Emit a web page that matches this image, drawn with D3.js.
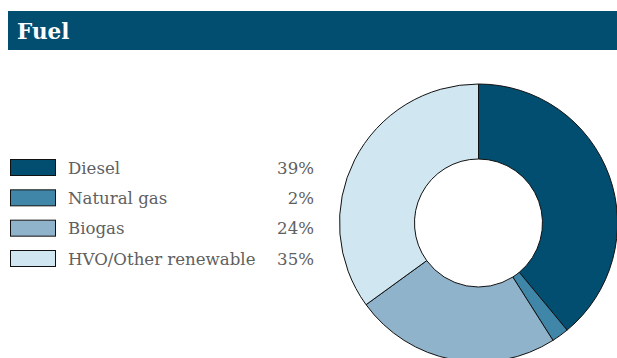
<!DOCTYPE html>
<html>
<head>
<meta charset="utf-8">
<script src="https://cdn.jsdelivr.net/npm/d3@7"></script>
<style>
  html, body { margin: 0; padding: 0; background: #fff; overflow: hidden; }
  svg { display: block; }
</style>
</head>
<body>
<svg id="chart" width="617" height="358"></svg>
<script>
const title = "Fuel";
const categories = ["Diesel", "Natural gas", "Biogas", "HVO/Other renewable"];
const shares = [39, 2, 24, 35];
const colors = ["#024e71", "#3f86a8", "#8fb3cb", "#d0e6f0"];

const svg = d3.select("#chart");
const W = 617, H = 358;

// Header band
svg.append("rect")
  .attr("x", 8).attr("y", 11).attr("width", W - 8).attr("height", 39)
  .attr("fill", "#024e71");
svg.append("text")
  .attr("x", 17).attr("y", 39)
  .attr("fill", "#fff")
  .attr("font-family", "DejaVu Serif, serif")
  .attr("font-weight", "bold")
  .attr("font-size", 21.5)
  .text(title);

// Legend
const rowY = d3.scalePoint().domain(categories).range([167, 258]);
const fontFamily = "DejaVu Serif, serif";
const legend = svg.append("g");
const rows = legend.selectAll("g").data(categories).join("g")
  .attr("transform", d => `translate(0,${rowY(d)})`);
rows.append("rect")
  .attr("x", 10.5).attr("y", -7.5).attr("width", 45).attr("height", 16)
  .attr("fill", (d, i) => colors[i])
  .attr("stroke", "#111").attr("stroke-width", 1);
rows.append("text")
  .attr("x", 68).attr("y", 6.5)
  .attr("fill", "#606060")
  .attr("font-family", fontFamily)
  .attr("font-size", 16.6)
  .text(d => d);
rows.append("text")
  .attr("x", 314).attr("y", 6.5)
  .attr("text-anchor", "end")
  .attr("fill", "#606060")
  .attr("font-family", fontFamily)
  .attr("font-size", 16.6)
  .text((d, i) => shares[i] + "%");

// Donut
const cx = 478.5, cy = 223, rOuter = 139, rInner = 64;
const pie = d3.pie().sort(null).value(d => d);
const arc = d3.arc().innerRadius(rInner).outerRadius(rOuter);
svg.append("g")
  .attr("transform", `translate(${cx},${cy})`)
  .selectAll("path").data(pie(shares)).join("path")
  .attr("d", arc)
  .attr("fill", (d, i) => colors[i])
  .attr("stroke", "#111")
  .attr("stroke-width", 1);
</script>
</body>
</html>
